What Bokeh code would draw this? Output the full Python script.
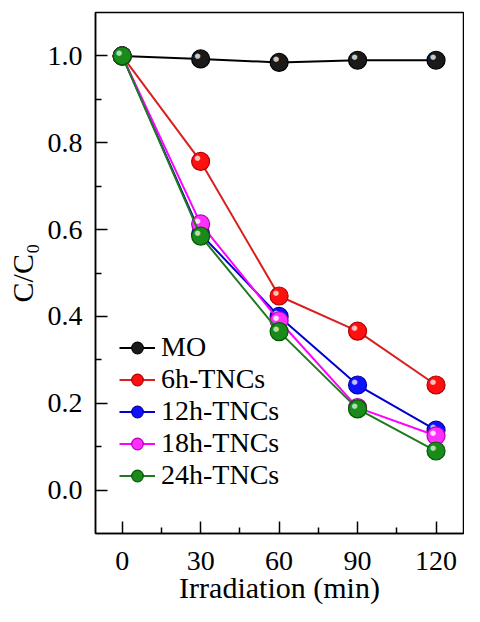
from bokeh.plotting import figure
from bokeh.models import FixedTicker, Range1d, Legend, LegendItem
from bokeh.core.properties import value
from bokeh.embed import file_html
from bokeh.resources import INLINE

time_min = [0, 30, 60, 90, 120]
mo = [1.0, 0.993, 0.985, 0.990, 0.990]
tnc6 = [1.0, 0.757, 0.447, 0.366, 0.242]
tnc12 = [1.0, 0.590, 0.400, 0.242, 0.138]
tnc18 = [1.0, 0.613, 0.390, 0.190, 0.125]
tnc24 = [1.0, 0.585, 0.365, 0.187, 0.090]

series_names = ["MO", "6h-TNCs", "12h-TNCs", "18h-TNCs", "24h-TNCs"]
series_values = [mo, tnc6, tnc12, tnc18, tnc24]
fill_colors = ["#1a1a1a", "#ff1010", "#1010ff", "#ff30ff", "#1a8a1a"]
edge_colors = ["#000000", "#b00000", "#0000a0", "#b000b0", "#005a00"]
line_colors = ["#000000", "#d82020", "#0000d0", "#ff00ff", "#1f7a1f"]
highlight_colors = ["#c8c8c8", "#ffc0c0", "#c0c0ff", "#ffe0ff", "#b0e0b0"]

x_ticks = [0, 30, 60, 90, 120]
x_minor = [15, 45, 75, 105]
y_ticks = [0.0, 0.2, 0.4, 0.6, 0.8, 1.0]
y_tick_labels = ["0.0", "0.2", "0.4", "0.6", "0.8", "1.0"]
y_minor = [0.1, 0.3, 0.5, 0.7, 0.9]

FONT = "Liberation Serif"

p = figure(width=464, height=606, output_backend="svg", toolbar_location=None,
           x_range=Range1d(-10.2, 130.5), y_range=Range1d(-0.1, 1.1),
           min_border_left=95, min_border_right=1, min_border_top=12, min_border_bottom=71)
p.background_fill_color = "white"
p.border_fill_color = "white"
p.grid.visible = False
p.outline_line_color = "black"
p.outline_line_width = 1.5

p.xaxis.ticker = FixedTicker(ticks=x_ticks, minor_ticks=x_minor)
p.yaxis.ticker = FixedTicker(ticks=y_ticks, minor_ticks=y_minor)
p.yaxis.major_label_overrides = {v: s for v, s in zip(y_ticks, y_tick_labels)}

for ax in (p.xaxis, p.yaxis):
    ax.axis_line_color = "black"
    ax.axis_line_width = 1.5
    ax.major_tick_in = 12
    ax.major_tick_out = 0
    ax.minor_tick_in = 6
    ax.minor_tick_out = 0
    ax.major_tick_line_width = 1.5
    ax.minor_tick_line_width = 1.5
    ax.major_tick_line_color = "black"
    ax.minor_tick_line_color = "black"
    ax.major_label_text_font = FONT
    ax.major_label_text_font_size = "28px"
    ax.major_label_text_color = "black"
    ax.axis_label_text_font = FONT
    ax.axis_label_text_font_size = "30px"
    ax.axis_label_text_font_style = "normal"
    ax.axis_label_text_color = "black"

p.xaxis.axis_label = "Irradiation (min)"
p.yaxis.axis_label = "C/C\u2080"
p.xaxis.major_label_standoff = 18
p.xaxis.axis_label_standoff = -2
p.yaxis.major_label_standoff = 13
p.yaxis.axis_label_standoff = 6

items = []
for name, vals, fc, ec, lc, hc in zip(series_names, series_values, fill_colors,
                                      edge_colors, line_colors, highlight_colors):
    ln = p.line(time_min, vals, line_color=lc, line_width=2)
    sc = p.scatter(time_min, vals, size=18, fill_color=fc, line_color=ec, line_width=1.2)
    p.text(time_min, vals, text=["\u25cf"] * len(time_min), x_offset=-3, y_offset=-3,
           text_font=value("DejaVu Sans"), text_font_size="7px", text_color=hc,
           text_align="center", text_baseline="middle")
    items.append(LegendItem(label=name, renderers=[ln, sc]))

legend = Legend(items=items, location=(24, 42), background_fill_alpha=0,
                border_line_alpha=0, label_text_font=FONT, label_text_font_size="28px",
                label_text_color="black",
                glyph_width=36, glyph_height=29, label_height=29, spacing=0,
                label_standoff=6, padding=0, margin=0)
p.add_layout(legend, "center")

html = file_html(p, INLINE)
open("out.html", "w").write(html)
